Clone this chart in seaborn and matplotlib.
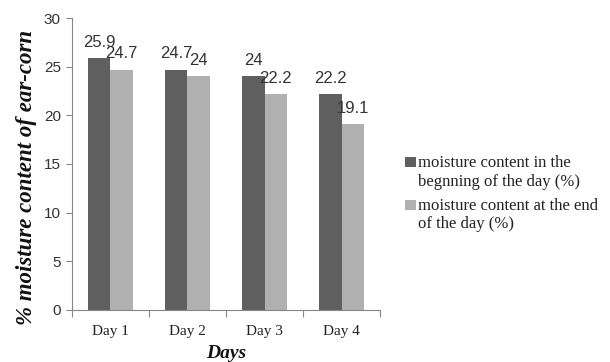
import matplotlib
matplotlib.use("Agg")
import matplotlib.pyplot as plt
from matplotlib.patches import Rectangle
from matplotlib.legend_handler import HandlerPatch
import seaborn as sns
import pandas as pd

days = ["Day 1", "Day 2", "Day 3", "Day 4"]
begin_day = [25.9, 24.7, 24.0, 22.2]
end_day = [24.7, 24.0, 22.2, 19.1]
series_names = ["moisture content in the\nbegnning of the day (%)",
                "moisture content at the end\nof the day (%)"]
y_ticks = [0, 5, 10, 15, 20, 25, 30]

df = pd.DataFrame({
    "day": days * 2,
    "moisture": begin_day + end_day,
    "series": [series_names[0]] * len(days) + [series_names[1]] * len(days),
})

sns.set_theme(style="white")
plt.rcParams["font.family"] = ["Liberation Sans", "DejaVu Sans"]

fig = plt.figure(figsize=(6.1, 3.62), dpi=100)
ax = fig.add_axes([0.118, 0.144, 0.505, 0.806])

palette = ["#5f5f5f", "#b0b0b0"]
sns.barplot(data=df, x="day", y="moisture", hue="series", palette=palette,
            width=0.58, gap=0, saturation=1, ax=ax, legend=False,
            edgecolor="none", linewidth=0)

for cont in ax.containers:
    ax.bar_label(cont, fmt="%g", padding=6, fontsize=12, color="#333333",
                 family="Liberation Sans")

ax.set_ylim(0, 30)
ax.set_xlim(-0.5, len(days) - 0.5)
ax.set_yticks(y_ticks)
ax.set_yticklabels([str(v) for v in y_ticks], fontsize=11, color="#333333")
ax.tick_params(axis="y", which="major", direction="out", length=4,
               width=0.8, color="#868686", left=True, pad=4)

# category labels sit between boundary ticks
ax.set_xticks(range(len(days)))
ax.set_xticklabels(days, family="Liberation Serif", fontsize=11,
                   color="#222222")
ax.tick_params(axis="x", which="major", length=0, pad=11)
ax.set_xticks([i - 0.5 for i in range(len(days) + 1)], minor=True)
ax.tick_params(axis="x", which="minor", direction="out", length=5,
               width=0.8, color="#868686", bottom=True)

for side in ["top", "right"]:
    ax.spines[side].set_visible(False)
for side in ["left", "bottom"]:
    ax.spines[side].set_color("#868686")
    ax.spines[side].set_linewidth(0.8)

ax.set_ylabel("% moisture content of ear-corn", family="Liberation Serif",
              fontsize=16.5, fontweight="bold", fontstyle="italic",
              color="#111111")
ax.yaxis.set_label_coords(-0.112, 0.455)
ax.set_xlabel("Days", family="Liberation Serif", fontsize=14,
              fontweight="bold", fontstyle="italic", color="#111111",
              labelpad=5)

LEG_FS = 12


def top_square(legend, orig_handle, xdescent, ydescent, width, height, fontsize):
    s = 0.62 * fontsize
    return Rectangle((-xdescent, -ydescent + 0.6 * fontsize + 0.5), s, s)


handles = [Rectangle((0, 0), 1, 1, facecolor=c, edgecolor="none") for c in palette]
leg = fig.legend(handles, series_names, loc="upper left",
                 bbox_to_anchor=(0.651, 0.594), frameon=False,
                 prop={"family": "Liberation Serif", "size": LEG_FS},
                 handlelength=0.62, handleheight=0.62, handletextpad=0.15,
                 labelspacing=0.5, borderpad=0,
                 handler_map={Rectangle: HandlerPatch(patch_func=top_square)})
for t in leg.get_texts():
    t.set_linespacing(1.2)
    t.set_color("#222222")

fig.savefig("out.png", dpi=100)
